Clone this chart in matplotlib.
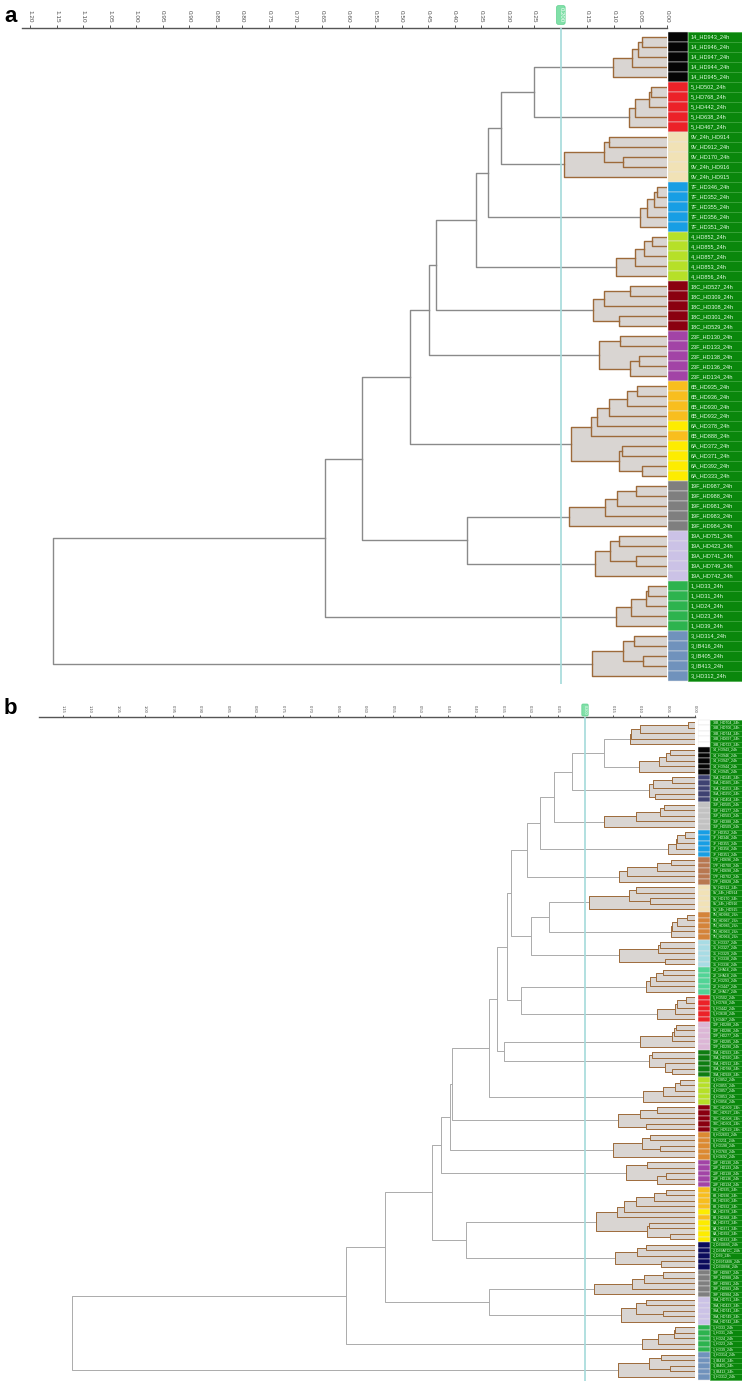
import matplotlib
matplotlib.use('Agg')
import matplotlib.pyplot as plt
from matplotlib.patches import Rectangle
from matplotlib.transforms import blended_transform_factory

plt.rcParams['font.family'] = ['Liberation Sans', 'DejaVu Sans']

# ---------------- panel a data ----------------
labels_a = [
    '14_HD943_24h', '14_HD946_24h', '14_HD947_24h', '14_HD944_24h', '14_HD945_24h',
    '5_HD502_24h', '5_HD768_24h', '5_HD442_24h', '5_HD638_24h', '5_HD467_24h',
    '9V_24h_HD914', '9V_HD912_24h', '9V_HD170_24h', '9V_24h_HD916', '9V_24h_HD915',
    '7F_HD346_24h', '7F_HD352_24h', '7F_HD355_24h', '7F_HD356_24h', '7F_HD351_24h',
    '4_HD852_24h', '4_HD855_24h', '4_HD857_24h', '4_HD853_24h', '4_HD856_24h',
    '18C_HD527_24h', '18C_HD309_24h', '18C_HD308_24h', '18C_HD301_24h', '18C_HD529_24h',
    '23F_HD130_24h', '23F_HD133_24h', '23F_HD138_24h', '23F_HD136_24h', '23F_HD134_24h',
    '6B_HD935_24h', '6B_HD936_24h', '6B_HD930_24h', '6B_HD932_24h', '6A_HD378_24h',
    '6B_HD888_24h', '6A_HD372_24h', '6A_HD371_24h', '6A_HD392_24h', '6A_HD333_24h',
    '19F_HD987_24h', '19F_HD988_24h', '19F_HD981_24h', '19F_HD983_24h', '19F_HD984_24h',
    '19A_HD751_24h', '19A_HD423_24h', '19A_HD741_24h', '19A_HD749_24h', '19A_HD742_24h',
    '1_HD33_24h', '1_HD31_24h', '1_HD24_24h', '1_HD23_24h', '1_HD39_24h',
    '3_HD314_24h', '3_IB416_24h', '3_IB405_24h', '3_IB413_24h', '3_HD312_24h',
]

# subtrees per serotype: (height, left, right), ints are leaves in order
groups_a = {
    '14': (0.102, (0.066, (0.055, (0.048, 0, 1), 2), 3), 4),
    '5': (0.071, (0.060, (0.033, (0.031, 0, 1), 2), 3), 4),
    '9V': (0.194, (0.119, (0.110, 0, 1), (0.082, 2, 3)), 4),
    '7F': (0.051, (0.038, (0.024, (0.019, 0, 1), 2), 3), 4),
    '4': (0.096, (0.060, (0.043, (0.029, 0, 1), 2), 3), 4),
    '18C': (0.140, (0.119, (0.070, 0, 1), 2), (0.090, 3, 4)),
    '23F': (0.129, (0.089, 0, 1), (0.070, (0.052, 2, 3), 4)),
    '6': (0.181, (0.144, (0.131, (0.109, (0.075, (0.056, 0, 1), 2), 3), 4), 5),
          (0.090, (0.084, 6, 7), (0.047, 8, 9))),
    '19F': (0.184, (0.116, (0.094, (0.058, 0, 1), 2), 3), 4),
    '19A': (0.136, (0.107, (0.090, 0, 1), (0.058, 2, 3)), 4),
    '1': (0.096, (0.067, (0.040, (0.035, 0, 1), 2), 3), 4),
    '3': (0.142, (0.083, (0.062, 0, 1), (0.046, 2, 3)), 4),
}
top_a = (1.156, (0.644, (0.575,
         (0.484, (0.448, (0.436, (0.360, (0.337, (0.313, (0.250, '14', '5'), '9V'), '7F'), '4'),
                                 '18C'), '23F'), '6'),
         (0.376, '19F', '19A')), '1'), '3')

# ---------------- panel b data ----------------
labels_b = [
    '33B_HD704_24h', '33B_HD706_24h', '33B_HD744_24h', '33B_HD697_24h', '33B_HD723_24h',
    '14_HD943_24h', '14_HD946_24h', '14_HD947_24h', '14_HD944_24h', '14_HD945_24h',
    '15A_HD245_24h', '15A_HD265_24h', '15A_HD253_24h', '15A_HD250_24h', '15A_HD404_24h',
    '35F_HD505_24h', '35F_HD177_24h', '35F_HD503_24h', '35F_HD388_24h', '35F_HD509_24h',
    '7F_HD352_24h', '7F_HD346_24h', '7F_HD355_24h', '7F_HD356_24h', '7F_HD351_24h',
    '17F_HD696_24h', '17F_HD700_24h', '17F_HD698_24h', '17F_HD702_24h', '17F_HD828_24h',
    '9V_HD912_24h', '9V_24h_HD914', '9V_HD170_24h', '9V_24h_HD916', '9V_24h_HD915',
    '9N_HD986_24h', '9N_HD967_24h', '9N_HD985_24h', '9N_HD963_24h', '9N_HD964_24h',
    '31_HD337_24h', '31_HD327_24h', '31_HD329_24h', '31_HD338_24h', '31_HD336_24h',
    '22_1HA16_24h', '22_1HA18_24h', '22_HD293_24h', '22_HD447_24h', '22_1HA17_24h',
    '5_HD502_24h', '5_HD768_24h', '5_HD442_24h', '5_HD638_24h', '5_HD467_24h',
    '12F_HD288_24h', '12F_HD286_24h', '12F_HD277_24h', '12F_HD285_24h', '12F_HD290_24h',
    '10A_HD923_24h', '10A_HD920_24h', '10A_HD912_24h', '10A_HD788_24h', '10A_HD928_24h',
    '4_HD852_24h', '4_HD855_24h', '4_HD857_24h', '4_HD853_24h', '4_HD856_24h',
    '18C_HD309_24h', '18C_HD527_24h', '18C_HD308_24h', '18C_HD301_24h', '18C_HD529_24h',
    '8_HD2603_24h', '8_HD211_24h', '8_HD198_24h', '8_HD760_24h', '8_HD692_24h',
    '23F_HD130_24h', '23F_HD133_24h', '23F_HD138_24h', '23F_HD136_24h', '23F_HD134_24h',
    '6B_HD935_24h', '6B_HD936_24h', '6B_HD930_24h', '6B_HD932_24h', '6A_HD378_24h',
    '6B_HD888_24h', '6A_HD372_24h', '6A_HD371_24h', '6A_HD392_24h', '6A_HD333_24h',
    '2_D39MS5_24h', '2_D39ATCC_24h', '2_D39_24h', '2_D39T4MS_24h', '2_D39MS6_24h',
    '19F_HD987_24h', '19F_HD988_24h', '19F_HD981_24h', '19F_HD983_24h', '19F_HD984_24h',
    '19A_HD751_24h', '19A_HD423_24h', '19A_HD741_24h', '19A_HD749_24h', '19A_HD742_24h',
    '1_HD33_24h', '1_HD31_24h', '1_HD24_24h', '1_HD23_24h', '1_HD39_24h',
    '3_HD314_24h', '3_IB416_24h', '3_IB405_24h', '3_IB413_24h', '3_HD312_24h',
]

groups_b = {
    '33B': (0.118, (0.116, (0.100, (0.013, 0, 1), 2), 3), 4),
    '14': (0.101, (0.065, (0.053, (0.045, 0, 1), 2), 3), 4),
    '15A': (0.083, (0.077, (0.041, 0, 1), 2), (0.073, 3, 4)),
    '35F': (0.165, (0.107, (0.064, (0.056, 0, 1), 2), 3), 4),
    '7F': (0.050, (0.035, (0.033, (0.018, 0, 1), 2), 3), 4),
    '17F': (0.138, (0.124, (0.070, (0.044, 0, 1), 2), 3), 4),
    '9V': (0.192, (0.120, (0.107, 0, 1), (0.082, 2, 3)), 4),
    '9N': (0.044, (0.041, (0.032, (0.015, 0, 1), 2), 3), 4),
    '31': (0.138, (0.067, (0.064, 0, 1), 2), (0.055, 3, 4)),
    '22': (0.089, (0.082, (0.071, (0.058, 0, 1), 2), 3), 4),
    '5': (0.070, (0.036, (0.032, (0.017, 0, 1), 2), 3), 4),
    '12F': (0.100, (0.041, (0.039, (0.035, 0, 1), 2), 3), 4),
    '10A': (0.083, (0.079, 0, 1), (0.055, 2, (0.041, 3, 4))),
    '4': (0.094, (0.059, (0.036, (0.028, 0, 1), 2), 3), 4),
    '18C': (0.140, (0.100, (0.069, 0, 1), 2), (0.089, 3, 4)),
    '8': (0.150, (0.097, (0.082, 0, 1), (0.064, 2, 3)), 4),
    '23F': (0.126, (0.087, 0, 1), (0.069, (0.052, 2, 3), 4)),
    '6': (0.180, (0.141, (0.130, (0.107, (0.074, (0.053, 0, 1), 2), 3), 4), 5),
          (0.088, (0.083, 6, 7), (0.045, 8, 9))),
    '2': (0.145, (0.105, (0.089, 0, 1), 2), (0.061, 3, 4)),
    '19F': (0.183, (0.115, (0.092, (0.058, 0, 1), 2), 3), 4),
    '19A': (0.135, (0.108, (0.090, 0, 1), (0.058, 2, 3)), 4),
    '1': (0.096, (0.067, (0.039, (0.036, 0, 1), 2), 3), 4),
    '3': (0.140, (0.083, (0.062, 0, 1), (0.045, 2, 3)), 4),
}
upper_b = (0.306, (0.282, (0.257, (0.223, (0.165, '33B', '14'), '15A'), '35F'), '7F'), '17F')
top_b = (1.133, (0.635, (0.563, (0.479, (0.462, (0.445, (0.442, (0.374, (0.360,
         (0.341, (0.335, upper_b, (0.299, (0.265, '9V', '9N'), '31')), (0.317, '22', '5')),
         (0.348, '12F', '10A')), '4'), '18C'), '8'), '23F'), (0.417, '6', '2')),
         (0.375, '19F', '19A')), '1'), '3')

strip_colors = {
    '14': '#050505', '5': '#ec2228', '9V': '#f1e2b6', '7F': '#189ee4', '4': '#b6e028',
    '18C': '#8a0010', '23F': '#a244a6', '6B': '#f8be1e', '6A': '#fdec00', '19F': '#7f7f7f',
    '19A': '#cbc2e6', '1': '#2db34e', '3': '#7092bc', '33B': '#ffffff', '15A': '#3e4272',
    '35F': '#c2c2c2', '17F': '#b87850', '9N': '#d4843a', '31': '#a8dce4', '22': '#52d496',
    '12F': '#dcb6d6', '10A': '#0f7d12', '8': '#dc8a32', '2': '#0b0b5c',
}

ticks_a = [0.0, 0.05, 0.10, 0.15, 0.25, 0.30, 0.35, 0.40, 0.45, 0.50, 0.55, 0.60, 0.65,
           0.70, 0.75, 0.80, 0.85, 0.90, 0.95, 1.00, 1.05, 1.10, 1.15, 1.20]
ticks_b = ticks_a[:-1]
cut_value = 0.2

FILL = '#d9d5d2'
BROWN = '#9d6a3a'
LABEL_GREEN = '#0a870c'

W, H = 744, 1381
fig = plt.figure(figsize=(W / 100, H / 100), dpi=100)


def px_axes(l, t, r, b):
    return fig.add_axes([l / W, 1 - b / H, (r - l) / W, (b - t) / H])


def draw_sub(ax, node, pos, lw):
    if isinstance(node, int):
        y = pos[0]
        pos[0] += 1
        return y, 0.0
    h, a, b = node
    ya, ha = draw_sub(ax, a, pos, lw)
    yb, hb = draw_sub(ax, b, pos, lw)
    ax.add_patch(Rectangle((0, ya), h, yb - ya, fc=FILL, ec='none', zorder=1))
    ax.plot([ha, h, h, hb], [ya, ya, yb, yb], color=BROWN, lw=lw, zorder=3)
    return (ya + yb) / 2, h


def draw_top(ax, node, pos, groups, lw, col):
    if isinstance(node, str):
        return draw_sub(ax, groups[node], pos, lw)
    h, a, b = node
    ya, ha = draw_top(ax, a, pos, groups, lw, col)
    yb, hb = draw_top(ax, b, pos, groups, lw, col)
    ax.plot([ha, h, h, hb], [ya, ya, yb, yb], color=col, lw=lw, zorder=2)
    return (ya + yb) / 2, h


def panel(tree_box, lab_box, y0, dy, labels, groups, top, ticks, fs_tick, fs_lab,
          lw, line_col, strip_w, tick_len, marker_y, marker_fs):
    l, t, r, b = tree_box
    scale = (r - l)
    ax = px_axes(l, t, r, b)
    n = len(labels)
    ylim = ((b - y0) / dy, (t - y0) / dy)
    # x range: left edge value from pixel scale
    ax.set_xlim(xleft_of[id(labels)], 0)
    ax.set_ylim(*ylim)
    draw_top(ax, top, [0], groups, lw, line_col)

    ax.xaxis.tick_top()
    ax.set_xticks(ticks)
    ax.set_xticklabels([f'{v:.2f}' for v in ticks], rotation=270)
    ax.tick_params(axis='x', direction='out', length=tick_len, width=0.7, pad=1.2,
                   color='#555555', labelcolor='#505050', labelsize=fs_tick)
    ax.set_yticks([])
    for s in ['left', 'right', 'bottom']:
        ax.spines[s].set_visible(False)
    ax.spines['top'].set_color('#555555')
    ax.spines['top'].set_linewidth(1.0)
    ax.patch.set_alpha(0)

    ax.axvline(cut_value, color='#a4dada', lw=1.2, zorder=6)
    tr = blended_transform_factory(ax.transData, fig.transFigure)
    ax.text(cut_value, 1 - marker_y / H, '0.200', transform=tr, rotation=270,
            ha='center', va='center', fontsize=marker_fs, color='white', zorder=10,
            clip_on=False,
            bbox=dict(boxstyle='round,pad=0.3', fc='#80e0a8', ec='#5ccf8c', lw=0.5))

    # colour strip + label boxes
    ll, lt, lr, lb = lab_box
    axl = px_axes(ll, lt, lr, lb)
    axl.set_xlim(0, lr - ll)
    axl.set_ylim(*ylim)
    axl.axis('off')
    ys = list(range(n))
    cols = [strip_colors[s.split('_')[0]] for s in labels]
    axl.barh(ys, strip_w, left=0, height=1.0, color=cols, edgecolor='#e6e6e6',
             linewidth=0.35)
    axl.barh(ys, (lr - ll) - strip_w, left=strip_w, height=1.0, color=LABEL_GREEN,
             edgecolor='#3aa63a', linewidth=0.4)
    for y, s in zip(ys, labels):
        axl.text(strip_w + 2.5, y, s, va='center', ha='left', fontsize=fs_lab,
                 color='#e4fbe4')
    return ax


xleft_of = {id(labels_a): (667 - 22) / 530.8, id(labels_b): (695 - 38.7) / 550.0}

panel((22, 28, 667, 684), (668, 28, 742, 684), 36.7, 9.99, labels_a, groups_a, top_a,
      ticks_a, 4.6, 4.0, 1.0, '#8a8a8a', 20, 2.5, 15, 4.3)
panel((38.7, 717.3, 695, 1381), (698, 717.3, 742, 1381), 722.3, 5.5, labels_b, groups_b,
      top_b, ticks_b, 3.0, 2.6, 0.7, '#ababab', 12, 1.8, 710, 2.8)

fig.text(4 / W, 1 - 16 / H, 'a', fontsize=16, fontweight='bold', va='center', ha='left')
fig.text(4 / W, 1 - 708 / H, 'b', fontsize=16, fontweight='bold', va='center', ha='left')

fig.savefig('out.png', dpi=100)
